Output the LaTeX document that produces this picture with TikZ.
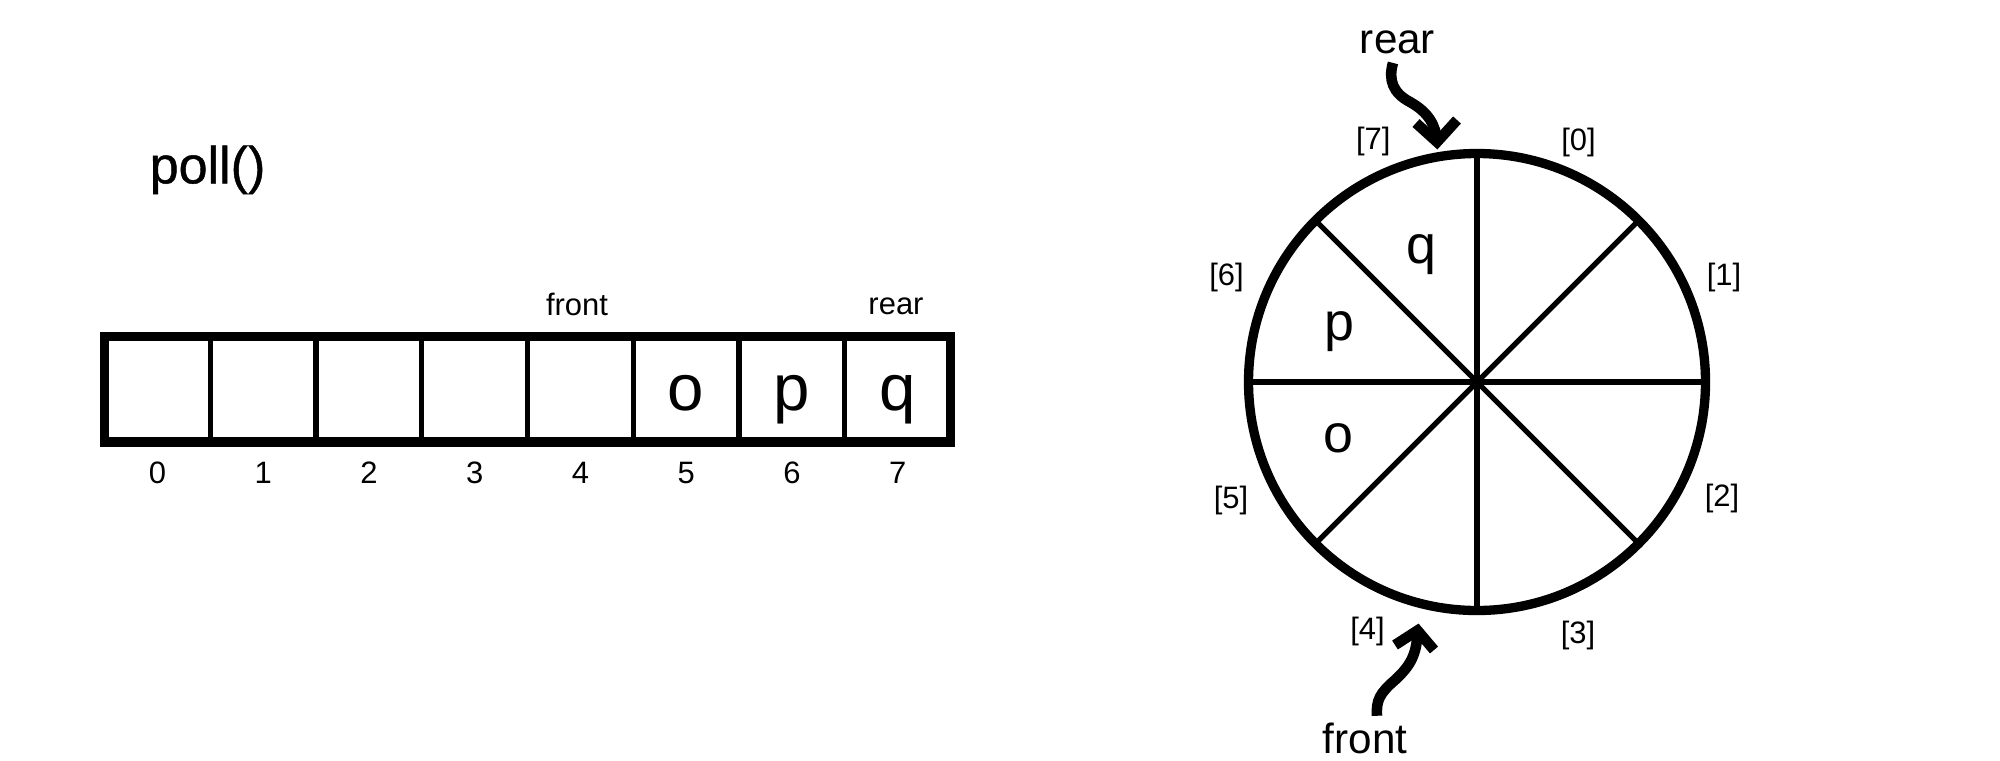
\documentclass[tikz,border=0pt]{standalone}
\usepackage{fontspec}
\setmainfont{Liberation Sans}
\usetikzlibrary{calc}
\begin{document}
\begin{tikzpicture}[x=0.01cm,y=-0.01cm,
  heavy/.style={line width=2.65pt},
  light/.style={line width=1.5pt},
  cellbox/.style={draw,light,minimum width=105.75*0.01cm,minimum height=105.5*0.01cm,inner sep=0pt,outer sep=0pt},
  smalltxt/.style={font=\fontsize{8.8}{10}\selectfont,inner sep=0pt},
  bigtxt/.style={font=\fontsize{12}{14}\selectfont,inner sep=0pt},
  celltxt/.style={font=\fontsize{18.6}{22}\selectfont,inner sep=0pt,anchor=base},
  ringtxt/.style={font=\fontsize{15.3}{18}\selectfont,inner sep=0pt,anchor=base},
  titletxt/.style={font=\fontsize{14.8}{18}\selectfont\addfontfeature{FakeBold=0.8},inner sep=0pt,anchor=base west},
  curvyarrow/.style={line width=3pt},
  barb/.style={line width=3pt,miter limit=10,line join=miter}]
\useasboundingbox (0,0) rectangle (2000,760);

% title
\node[titletxt] (title) at (149,183.3) {poll()};

% linear array
\foreach \i in {0,...,7}{
  \node[cellbox] (c\i) at ({157.375+105.75*\i},389.25) {};
  \node[smalltxt,anchor=base] (n\i) at ({157.375+105.75*\i},483.3) {\i};
}
\draw[heavy] (c0.north west) rectangle (c7.south east);
\node[celltxt] (a5) at (c5 |- 0,410.7) {o};
\node[celltxt] (a6) at (c6 |- 0,410.7) {p};
\node[celltxt] (a7) at (c7 |- 0,410.7) {q};
\node[smalltxt,anchor=base] (afront) at (577,315) {front};
\node[smalltxt,anchor=base] (arear) at (896,314) {rear};

% circular array
\coordinate (O) at (1477,382);
\foreach \a in {0,45,...,315}{
  \draw[light] (O) -- ++(\a:228.5);
}
\draw[heavy] (O) circle[radius=228.5];
\node[ringtxt] (r7) at (1421.7,263.3) {q};
\node[ringtxt] (r6) at (1339,340) {p};
\node[ringtxt] (r5) at (1338.5,452) {o};

\node[smalltxt] (l0) at (1578.5,142) {[0]};
\node[smalltxt] (l1) at (1724,277) {[1]};
\node[smalltxt] (l2) at (1722,498.3) {[2]};
\node[smalltxt] (l3) at (1578,635) {[3]};
\node[smalltxt] (l4) at (1367.5,631) {[4]};
\node[smalltxt] (l5) at (1231,500) {[5]};
\node[smalltxt] (l6) at (1226.5,277) {[6]};
\node[smalltxt] (l7) at (1373.3,141) {[7]};

% rear pointer
\node[bigtxt,anchor=base] (rearlbl) at (1397.5,53.3) {rear};
\coordinate (rtip) at (1437,142);
\draw[curvyarrow] ($(rearlbl.south)+(-4.5,8.5)$) .. controls (1388,80) and (1393,93) .. (1410,102)
  .. controls (1428,112) and (1436,125) .. (rtip);
\draw[barb] (1416,123) -- (rtip) -- (1457,120);

% front pointer
\node[bigtxt,anchor=base] (frontlbl) at (1365,753) {front};
\coordinate (ftip) at (1417.5,630.5);
\draw[curvyarrow] ($(frontlbl.north)+(12,-6)$) .. controls (1376,700) and (1380,693) .. (1395,680)
  .. controls (1410,666) and (1417,655) .. (ftip);
\draw[barb] (1395,645) -- (ftip) -- (1434,650);
\end{tikzpicture}
\end{document}
